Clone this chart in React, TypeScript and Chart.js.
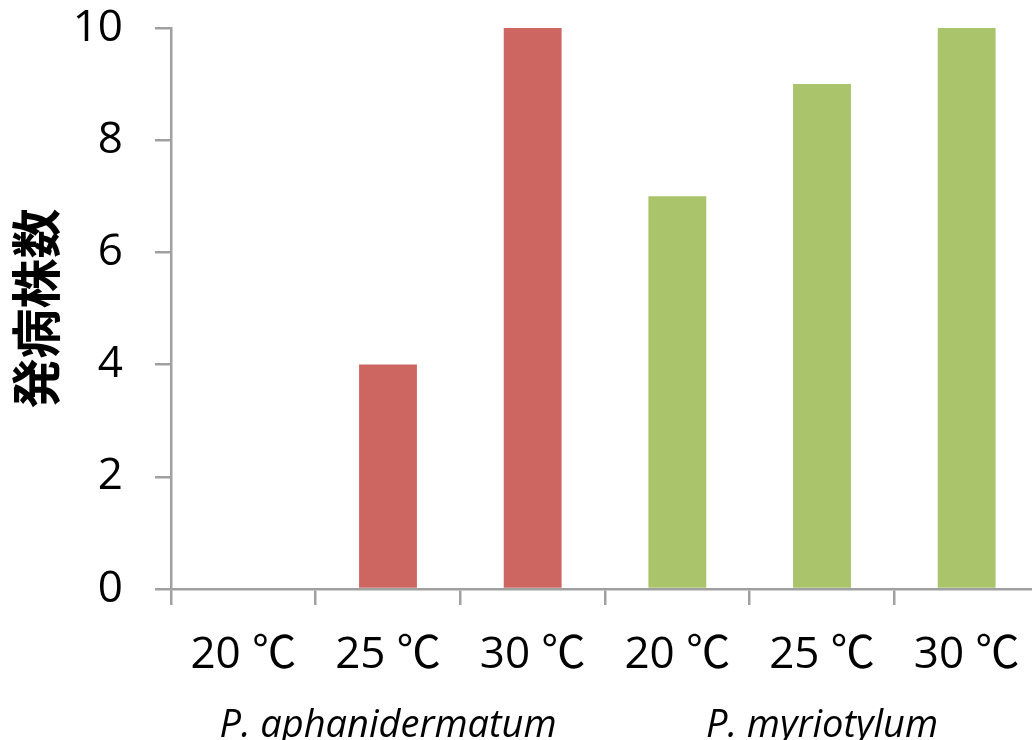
import React, { useEffect, useRef } from 'react';
import { Chart, registerables } from 'chart.js';

Chart.register(...registerables);

const categories = ['20 ℃', '25 ℃', '30 ℃', '20 ℃', '25 ℃', '30 ℃'];
const groupLabels = ['', 'P. aphanidermatum', '', '', 'P. myriotylum', ''];
const values = [0, 4, 10, 7, 9, 10];
const barColors = ['#CD6660', '#CD6660', '#CD6660', '#A9C46A', '#A9C46A', '#A9C46A'];
const yMin = 0;
const yMax = 10;
const yStep = 2;
const yTitle = '発病株数';

const AXIS_GRAY = '#A0A0A0';
const FONT = '"Open Sans", "Noto Sans CJK JP", sans-serif';

export default function App() {
  const ref = useRef<HTMLCanvasElement | null>(null);

  useEffect(() => {
    if (!ref.current) return;
    const chart = new Chart(ref.current, {
      type: 'bar',
      data: {
        labels: categories,
        datasets: [
          {
            data: values,
            backgroundColor: barColors,
            borderWidth: 0,
            barPercentage: 0.4,
            categoryPercentage: 1,
          },
        ],
      },
      options: {
        responsive: false,
        animation: false,
        devicePixelRatio: 1,
        layout: { padding: { top: 28, right: 1, bottom: 0, left: 0 } },
        plugins: {
          legend: { display: false },
          tooltip: { enabled: false },
        },
        scales: {
          x: {
            type: 'category',
            position: 'bottom',
            offset: true,
            grid: {
              offset: true,
              drawOnChartArea: false,
              drawTicks: true,
              tickLength: 16,
              color: AXIS_GRAY,
              lineWidth: 2.5,
            },
            border: { display: true, color: AXIS_GRAY, width: 2.5 },
            ticks: {
              color: '#000',
              font: { family: FONT, size: 44 },
              padding: 24,
              maxRotation: 0,
              autoSkip: false,
            },
            afterFit: (s: any) => {
              s.height = 80;
              s.paddingLeft = 0;
              s.paddingRight = 0;
            },
          },
          x2: {
            type: 'category',
            position: 'bottom',
            labels: groupLabels,
            offset: true,
            grid: { display: false },
            border: { display: false },
            ticks: {
              color: '#000',
              font: { family: FONT, size: 38, style: 'italic' },
              padding: 26,
              maxRotation: 0,
              autoSkip: false,
            },
            afterFit: (s: any) => {
              s.height = 71;
              s.paddingLeft = 0;
              s.paddingRight = 0;
            },
          },
          y: {
            min: yMin,
            max: yMax,
            position: 'left',
            grid: {
              drawOnChartArea: false,
              drawTicks: true,
              tickLength: 16,
              color: AXIS_GRAY,
              lineWidth: 2.5,
            },
            border: { display: true, color: AXIS_GRAY, width: 2.5 },
            ticks: {
              stepSize: yStep,
              color: '#000',
              font: { family: FONT, size: 44 },
              padding: 32,
            },
            title: {
              display: true,
              text: yTitle,
              color: '#000',
              font: { family: '"Noto Sans CJK JP", sans-serif', size: 50, weight: 'bold' },
              padding: { top: 6, bottom: 0 },
            },
            afterFit: (s: any) => {
              s.width = 171;
              s.paddingTop = 0;
              s.paddingBottom = 0;
            },
          },
        },
      },
    });
    return () => chart.destroy();
  }, []);

  return (
    <div
      style={{
        position: 'fixed',
        left: 0,
        top: 0,
        width: 1032,
        height: 740,
        overflow: 'hidden',
        background: '#fff',
      }}
    >
      <canvas ref={ref} width={1040} height={740} style={{ width: 1040, height: 740, display: 'block' }} />
    </div>
  );
}
